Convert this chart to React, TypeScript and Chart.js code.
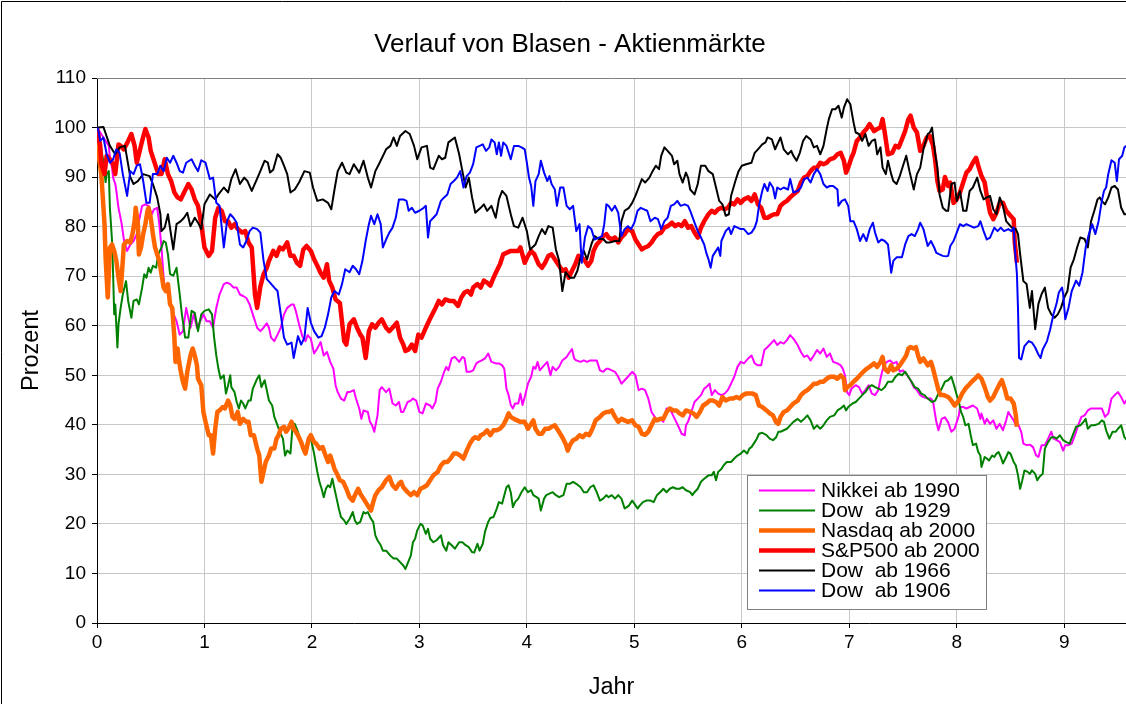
import React, { useEffect, useRef } from 'react';
import { Chart, registerables } from 'chart.js';

Chart.register(...registerables);

type P = [number, number];

const TITLE = 'Verlauf von Blasen - Aktienmärkte';
const X_TITLE = 'Jahr';
const Y_TITLE = 'Prozent';
const X_MAX = 9.575;
const Y_MAX = 110;
const X_STEP = 1;
const Y_STEP = 10;

const nikkei1990: P[] = [[0,100],[0.03,99],[0.06,98],[0.11,96.3],[0.12,93.9],[0.14,91.9],[0.15,89.9],[0.17,88.6],[0.18,87.2],[0.2,83.8],[0.23,80.5],[0.25,77.4],[0.28,75.1],[0.31,76.4],[0.34,77.1],[0.37,78.5],[0.39,81.1],[0.42,84.2],[0.45,84.5],[0.48,84.2],[0.51,82.5],[0.53,83.5],[0.56,83.8],[0.58,80.5],[0.6,75.8],[0.62,69.7],[0.63,67.7],[0.66,67.7],[0.69,63.6],[0.74,60.9],[0.77,58.2],[0.8,58.9],[0.83,63.6],[0.87,59.6],[0.9,62.3],[0.93,59.6],[0.96,60.9],[0.99,62.3],[1.02,60.9],[1.05,60.9],[1.08,59.6],[1.11,63.6],[1.14,66.3],[1.18,68.4],[1.21,68.7],[1.24,68.4],[1.27,67.7],[1.3,67.7],[1.33,66.3],[1.36,66],[1.39,65.6],[1.42,64.3],[1.45,62.3],[1.49,59.6],[1.52,58.9],[1.55,59.6],[1.58,60.5],[1.6,59.6],[1.62,57.6],[1.65,56.9],[1.68,58.2],[1.71,59.6],[1.74,62.3],[1.77,63.6],[1.81,64.3],[1.83,64.3],[1.85,63],[1.88,60.3],[1.91,57.9],[1.94,56.9],[1.96,58.1],[1.99,57.4],[2.02,54.4],[2.05,55.4],[2.08,56.7],[2.11,54],[2.14,54.7],[2.17,52.7],[2.2,51.3],[2.22,48],[2.24,46.6],[2.27,45.3],[2.3,44.9],[2.33,46.6],[2.35,46.6],[2.39,47],[2.41,45.3],[2.44,43.3],[2.46,41.2],[2.48,42.9],[2.52,42.6],[2.54,40.6],[2.56,39.9],[2.58,38.6],[2.61,41.9],[2.63,47],[2.65,47.6],[2.69,46.6],[2.72,47.3],[2.75,44.3],[2.78,43.9],[2.81,44.6],[2.83,42.6],[2.85,42.6],[2.89,44.6],[2.92,44.9],[2.94,45.3],[2.97,44.9],[3,42.6],[3.03,42.3],[3.06,44.3],[3.1,43.9],[3.12,43.3],[3.15,44.6],[3.17,47.3],[3.2,48.7],[3.23,50.7],[3.25,51.7],[3.27,51],[3.3,53.4],[3.33,53.7],[3.37,52.7],[3.4,53.7],[3.42,53.4],[3.44,50.7],[3.47,50.7],[3.5,51],[3.53,52.4],[3.55,52.7],[3.58,53],[3.61,53.4],[3.64,54.4],[3.67,52.7],[3.71,52.4],[3.74,52.4],[3.77,52],[3.79,51.3],[3.81,47.3],[3.83,46],[3.85,44],[3.87,43.3],[3.89,44.3],[3.92,44.3],[3.94,46.3],[3.96,44],[3.98,45.6],[4.01,48.3],[4.04,49.7],[4.06,51.7],[4.08,51.3],[4.1,52.7],[4.12,51],[4.16,52],[4.19,52.7],[4.22,50],[4.24,51.7],[4.27,51],[4.3,51.7],[4.33,53],[4.37,53.7],[4.4,54.7],[4.42,55.3],[4.44,53.4],[4.46,53],[4.5,52.7],[4.53,53],[4.56,52.7],[4.59,53],[4.62,53],[4.65,53],[4.68,51],[4.71,50.7],[4.74,51.3],[4.76,51.3],[4.79,51],[4.82,50.7],[4.85,49.7],[4.88,48.3],[4.91,49],[4.94,49.7],[4.98,50.7],[5.01,50],[5.04,47],[5.07,47.3],[5.1,47],[5.13,45.3],[5.16,42.6],[5.19,41.6],[5.21,40.9],[5.24,41.2],[5.27,40.6],[5.3,43.3],[5.33,43.3],[5.36,41.9],[5.39,40.6],[5.42,39.2],[5.44,38.2],[5.47,37.9],[5.48,39.9],[5.5,40.6],[5.53,42.6],[5.56,44.6],[5.59,45.3],[5.62,46],[5.65,47.3],[5.67,47.6],[5.7,48.3],[5.72,46],[5.75,47],[5.78,46.3],[5.81,46],[5.84,46.3],[5.87,47],[5.9,48.3],[5.93,49.7],[5.96,51.7],[5.99,52.7],[6.02,52.4],[6.06,53.4],[6.09,54],[6.12,52.4],[6.15,52],[6.18,52],[6.21,55.1],[6.24,55.7],[6.27,56.4],[6.3,57.1],[6.33,56.1],[6.36,56.7],[6.39,56.4],[6.42,57.1],[6.45,58.1],[6.48,57.4],[6.52,56.1],[6.55,54.7],[6.58,53.7],[6.61,54],[6.64,53],[6.67,54],[6.7,55.1],[6.73,54.4],[6.76,55.4],[6.79,53.7],[6.82,54.4],[6.85,52.7],[6.89,52.4],[6.92,52],[6.94,51.3],[6.96,50],[6.98,46.6],[7,46],[7.02,47.3],[7.06,48],[7.09,47.6],[7.12,46.3],[7.15,47],[7.18,48],[7.21,46.3],[7.24,46],[7.27,47],[7.29,49.3],[7.32,52],[7.35,52.7],[7.38,53],[7.41,52.4],[7.44,52.7],[7.47,50.7],[7.5,51],[7.53,50.3],[7.57,49],[7.6,47.6],[7.63,47],[7.66,46],[7.69,45.6],[7.73,45.3],[7.76,45.3],[7.78,44.6],[7.81,40.6],[7.83,38.9],[7.86,41.2],[7.89,41.5],[7.92,40.5],[7.95,38.6],[7.98,39.2],[8.02,41.9],[8.03,43.6],[8.06,43.6],[8.09,43.3],[8.12,43.6],[8.15,43.9],[8.19,43.3],[8.22,41.2],[8.23,42.3],[8.26,40.2],[8.28,41.2],[8.31,40.2],[8.34,40.9],[8.37,39.2],[8.4,40.2],[8.43,38.9],[8.46,40.9],[8.48,42.6],[8.5,41.9],[8.53,40.9],[8.55,39.9],[8.57,40.2],[8.6,38.6],[8.62,36.2],[8.65,35.9],[8.68,36],[8.71,35.5],[8.74,33.8],[8.76,33.5],[8.79,35.9],[8.82,35.9],[8.85,37.2],[8.88,38.6],[8.9,37.2],[8.93,36.9],[8.96,36.5],[8.99,34.8],[9.01,35.9],[9.04,35.9],[9.07,36.2],[9.1,37.9],[9.13,39.9],[9.16,41.6],[9.19,41.9],[9.22,42.9],[9.25,43.3],[9.28,43.3],[9.32,43.3],[9.35,43.3],[9.38,41.6],[9.41,42.3],[9.44,45.3],[9.47,46],[9.5,46.6],[9.53,45.6],[9.56,44.3],[9.58,45]];

const dow1929: P[] = [[0,100],[0.03,97],[0.06,93],[0.08,89],[0.09,90.6],[0.11,91.2],[0.12,83.8],[0.14,77.1],[0.15,70.4],[0.16,62.3],[0.17,64.3],[0.19,55.6],[0.2,60.3],[0.22,63.6],[0.24,66.3],[0.27,69],[0.29,65],[0.32,61.6],[0.34,65],[0.37,65.3],[0.39,64.3],[0.42,67.7],[0.44,70.4],[0.46,69.7],[0.48,71.7],[0.5,70.7],[0.52,72.1],[0.55,71.7],[0.57,74.4],[0.6,75.8],[0.62,77.1],[0.64,76.8],[0.66,74.4],[0.68,70.4],[0.71,70.1],[0.74,71.7],[0.77,66.3],[0.79,62.3],[0.82,57.6],[0.85,57.6],[0.88,63],[0.91,62.6],[0.94,58.9],[0.97,62.3],[1,63],[1.04,63.3],[1.07,62.3],[1.09,57.6],[1.11,54],[1.13,51.3],[1.15,49.3],[1.18,50],[1.2,46.3],[1.22,48],[1.24,50],[1.25,47.6],[1.28,46.6],[1.3,44.6],[1.32,43.3],[1.34,44.9],[1.36,44.3],[1.38,43.3],[1.41,44.9],[1.43,44.9],[1.45,47.3],[1.49,49.3],[1.51,50],[1.53,47.6],[1.56,49],[1.58,47],[1.6,44.9],[1.63,43.9],[1.65,41.6],[1.68,39.9],[1.7,38.6],[1.73,37.2],[1.75,33.8],[1.77,34.8],[1.8,34.2],[1.82,39.9],[1.84,40.2],[1.87,38.6],[1.9,35.9],[1.93,35.2],[1.96,36.5],[1.99,37.2],[2.02,34.2],[2.05,30.5],[2.07,28.5],[2.09,27.1],[2.11,25.4],[2.13,27.1],[2.15,27.8],[2.17,27.4],[2.19,29.1],[2.21,27.1],[2.23,25.1],[2.25,23.1],[2.27,21.4],[2.3,20.7],[2.32,20],[2.35,21],[2.38,22.4],[2.4,20.7],[2.42,20],[2.45,20.4],[2.48,22.4],[2.5,22.1],[2.52,22.4],[2.55,21],[2.57,20.4],[2.59,17.7],[2.61,16.7],[2.64,15.7],[2.66,14.6],[2.69,14.6],[2.73,13.6],[2.76,13],[2.79,13],[2.82,12.3],[2.85,11.6],[2.87,10.9],[2.89,12],[2.92,13.6],[2.94,16.3],[2.96,17],[2.98,18.7],[3.01,20],[3.03,19.7],[3.06,18],[3.08,19],[3.1,17],[3.13,16.3],[3.16,16.7],[3.2,17.7],[3.22,15.7],[3.25,14.6],[3.27,16.3],[3.3,15.7],[3.33,15],[3.37,16.3],[3.4,16.3],[3.43,15.7],[3.46,15.3],[3.49,14.3],[3.51,14.2],[3.54,16],[3.56,14.6],[3.59,16],[3.61,18.4],[3.64,20.4],[3.66,21.2],[3.69,21.4],[3.72,23.1],[3.74,24.4],[3.77,24.1],[3.79,25.8],[3.81,27.4],[3.83,27.8],[3.85,26.4],[3.87,23.4],[3.89,24.4],[3.92,25.1],[3.95,26.4],[3.98,27.4],[4.01,26.4],[4.04,26.8],[4.06,25.8],[4.09,25.4],[4.11,25.1],[4.13,22.7],[4.16,25.1],[4.18,25.8],[4.21,26.1],[4.24,26.4],[4.27,25.8],[4.3,25.4],[4.34,25.8],[4.37,28.1],[4.4,28.1],[4.43,28.5],[4.46,28.1],[4.5,27.4],[4.53,26.4],[4.56,26.4],[4.59,27.4],[4.62,27.8],[4.65,26.4],[4.68,24.7],[4.71,25.1],[4.74,25.8],[4.76,25.4],[4.79,25.8],[4.82,25.1],[4.85,25.8],[4.88,25.1],[4.91,23.1],[4.93,23.4],[4.95,23.7],[4.98,24.7],[5,24.1],[5.03,23.1],[5.05,23.7],[5.08,24.4],[5.11,24.7],[5.15,24.7],[5.18,24.4],[5.21,25.8],[5.24,26.4],[5.27,27.1],[5.3,26.4],[5.33,27.1],[5.36,27.4],[5.39,27.1],[5.42,27.1],[5.45,27.4],[5.48,26.8],[5.52,26.4],[5.54,25.8],[5.56,26.4],[5.59,27.1],[5.62,28.5],[5.65,29.1],[5.69,29.8],[5.72,29.8],[5.74,30.5],[5.76,28.8],[5.78,30.5],[5.81,31.1],[5.83,31.8],[5.86,32.5],[5.9,32.5],[5.93,33.2],[5.96,33.8],[5.99,34.2],[6.02,34.8],[6.05,34.2],[6.07,35.2],[6.09,35.5],[6.12,36.5],[6.14,37.2],[6.16,38.2],[6.19,38.4],[6.23,37.9],[6.26,37.2],[6.29,36.9],[6.32,37.5],[6.34,38.6],[6.36,38.6],[6.39,38.9],[6.42,39.2],[6.45,39.9],[6.48,40.6],[6.52,41.2],[6.55,40.6],[6.58,41.2],[6.61,41.9],[6.64,40.9],[6.67,39.2],[6.7,39.9],[6.73,39.2],[6.76,39.9],[6.79,40.9],[6.82,41.6],[6.86,41.9],[6.89,42.9],[6.92,43.3],[6.95,43.9],[6.97,42.9],[6.99,43.6],[7.03,44.3],[7.06,44.6],[7.09,45.3],[7.12,46],[7.15,46.6],[7.18,47.6],[7.21,48],[7.24,47.6],[7.27,47.3],[7.3,47],[7.33,47.6],[7.36,48.7],[7.4,48.7],[7.43,49.7],[7.46,50.3],[7.49,50],[7.52,50.7],[7.55,49.7],[7.58,48.7],[7.61,47.6],[7.64,47.3],[7.67,46.3],[7.7,46],[7.73,45.3],[7.77,44.6],[7.8,44.9],[7.83,46.3],[7.86,47.3],[7.89,48.7],[7.92,49],[7.95,49.7],[7.98,47.6],[8,46],[8.02,44.6],[8.04,42.6],[8.06,41.6],[8.08,39.9],[8.11,40.2],[8.13,37.9],[8.15,35.9],[8.18,36.2],[8.2,34.5],[8.22,33.8],[8.23,31.5],[8.26,33.5],[8.28,33.2],[8.3,32.8],[8.33,33.8],[8.35,33.5],[8.37,34.2],[8.39,34.5],[8.41,33.5],[8.43,32.2],[8.46,33.5],[8.48,34.5],[8.5,34.2],[8.53,32.5],[8.55,31.8],[8.57,29.8],[8.59,27.1],[8.61,28.8],[8.63,30.8],[8.66,30.5],[8.68,30.1],[8.7,30.8],[8.73,30.1],[8.75,28.8],[8.77,29.5],[8.8,30.1],[8.82,35.2],[8.85,36.5],[8.88,37.5],[8.91,37.5],[8.93,37.2],[8.96,37.9],[8.99,36.9],[9.02,36.5],[9.05,36.2],[9.08,37.9],[9.11,39.6],[9.15,39.9],[9.18,40.6],[9.2,41.2],[9.22,39.2],[9.25,39.9],[9.28,39.9],[9.32,40.2],[9.35,40.9],[9.37,40.6],[9.39,38.9],[9.42,37.2],[9.45,38.6],[9.48,38.6],[9.5,39.2],[9.53,39.9],[9.56,37.5],[9.58,37]];

const nasdaq2000: P[] = [[0,97],[0.01,95.3],[0.04,90.6],[0.07,80.5],[0.08,73.7],[0.1,65.7],[0.11,70.4],[0.12,75.8],[0.14,76.4],[0.16,75.1],[0.18,73.1],[0.2,69.7],[0.22,67],[0.24,73.1],[0.25,76.4],[0.28,77.1],[0.31,76.8],[0.33,78.5],[0.35,81.1],[0.36,83.8],[0.38,80.5],[0.39,74.4],[0.41,75.8],[0.43,78.5],[0.45,80.5],[0.47,83.2],[0.48,83.8],[0.5,81.8],[0.52,78.5],[0.54,75.8],[0.56,74.4],[0.58,73.1],[0.6,70.4],[0.62,67.7],[0.64,67],[0.66,68.4],[0.68,64.3],[0.7,63.6],[0.72,57.6],[0.73,52.7],[0.75,55.4],[0.76,53.4],[0.78,50.7],[0.8,48.7],[0.82,47.3],[0.84,50.7],[0.87,54],[0.89,55.4],[0.91,54],[0.93,52],[0.94,49.3],[0.97,48],[0.99,42.6],[1.01,40.6],[1.04,37.9],[1.06,37.9],[1.08,34.2],[1.1,39.2],[1.12,42.6],[1.14,42.9],[1.17,43.6],[1.19,43.3],[1.22,44.9],[1.24,43.9],[1.26,41.6],[1.28,41.2],[1.31,42.6],[1.33,40.2],[1.36,41.2],[1.39,40.6],[1.41,40.6],[1.43,37.9],[1.46,37.9],[1.49,35.2],[1.51,33.8],[1.53,28.5],[1.55,30.5],[1.57,32.5],[1.6,33.8],[1.62,35.2],[1.65,35.2],[1.67,37.2],[1.69,37.9],[1.71,39.2],[1.74,39.6],[1.76,38.6],[1.78,39.2],[1.81,40.6],[1.83,39.2],[1.85,38.6],[1.87,37.9],[1.9,36.5],[1.92,35.2],[1.94,34.2],[1.97,37.2],[1.99,37.9],[2.02,36.5],[2.04,36.2],[2.07,35.2],[2.1,35.5],[2.12,34.2],[2.15,32.5],[2.17,33.8],[2.19,32.5],[2.21,31.1],[2.24,29.8],[2.26,28.8],[2.29,28.5],[2.32,27.1],[2.35,25.4],[2.38,24.7],[2.4,25.8],[2.43,27.1],[2.45,26.1],[2.48,25.1],[2.5,24.4],[2.52,23.7],[2.55,22.7],[2.57,24.4],[2.59,25.8],[2.62,26.8],[2.65,27.4],[2.69,28.8],[2.72,29.5],[2.75,27.8],[2.78,27.1],[2.81,28.1],[2.83,28.5],[2.85,27.4],[2.89,26.4],[2.92,25.8],[2.95,26.4],[2.98,25.8],[3.01,27.1],[3.04,27.4],[3.07,27.8],[3.1,28.8],[3.13,29.8],[3.17,30.5],[3.2,31.8],[3.23,32.5],[3.26,32.5],[3.29,33.2],[3.32,34.2],[3.35,34.2],[3.38,33.8],[3.41,33.2],[3.44,34.8],[3.47,36.2],[3.5,37.2],[3.52,37.5],[3.55,37.2],[3.57,37.9],[3.6,38.2],[3.63,38.9],[3.66,37.9],[3.69,38.9],[3.72,38.9],[3.75,39.2],[3.78,39.9],[3.81,41.2],[3.83,42.3],[3.85,41.6],[3.88,41.2],[3.91,40.9],[3.94,40.6],[3.98,40.6],[4.01,39.2],[4.03,39.9],[4.06,40.9],[4.08,39.2],[4.11,38.2],[4.14,38.2],[4.17,39.2],[4.2,39.2],[4.23,39.6],[4.26,39.9],[4.29,38.9],[4.33,37.5],[4.36,36.2],[4.38,34.8],[4.4,35.9],[4.43,36.9],[4.46,37.2],[4.49,37.9],[4.52,37.5],[4.55,38.2],[4.58,37.9],[4.61,39.2],[4.64,40.9],[4.68,41.6],[4.71,42.3],[4.74,42.6],[4.76,42.6],[4.79,42.9],[4.82,41.6],[4.85,40.6],[4.88,41.2],[4.91,40.9],[4.94,40.6],[4.98,40.9],[5.01,39.9],[5.04,39.6],[5.07,38.2],[5.1,38],[5.13,38.6],[5.16,39.9],[5.19,41.2],[5.21,40.9],[5.24,41.2],[5.27,41.2],[5.3,42.6],[5.33,43.3],[5.36,42.9],[5.39,42.9],[5.42,42.3],[5.45,41.9],[5.48,42.9],[5.52,42.6],[5.55,42.3],[5.58,41.6],[5.61,42.6],[5.64,43.9],[5.67,44.3],[5.7,44.9],[5.73,44.9],[5.76,44.6],[5.79,43.9],[5.82,45.6],[5.85,44.9],[5.89,45.3],[5.92,45.3],[5.95,45.6],[5.98,45.3],[6.01,46],[6.04,46.3],[6.07,46.3],[6.1,46.3],[6.13,46],[6.16,43.9],[6.19,43.6],[6.23,42.9],[6.26,42.3],[6.29,41.9],[6.32,40.5],[6.34,40.2],[6.36,41.6],[6.39,42.6],[6.42,42.9],[6.45,43.6],[6.48,44.3],[6.52,44.9],[6.55,46],[6.58,46.6],[6.61,47],[6.64,47.6],[6.67,48.3],[6.7,48.3],[6.73,48.7],[6.76,48.7],[6.79,49.3],[6.82,49.7],[6.86,49.7],[6.89,49.3],[6.92,50],[6.95,49.3],[6.96,47],[6.98,47.6],[7.01,48],[7.04,48.7],[7.07,49.3],[7.1,50],[7.13,50.7],[7.16,51.3],[7.19,51.7],[7.23,52.4],[7.26,51.7],[7.29,52.7],[7.31,53.7],[7.33,51.3],[7.36,50.7],[7.39,52],[7.41,51],[7.44,51.3],[7.47,52],[7.5,53],[7.53,54],[7.55,55.4],[7.57,55.7],[7.6,55.4],[7.62,55.7],[7.64,54],[7.66,52.7],[7.69,53.4],[7.73,52],[7.76,52.7],[7.78,51.3],[7.81,48.7],[7.83,47],[7.85,46],[7.88,46],[7.92,45.6],[7.95,44.9],[7.98,43.9],[8.02,44.9],[8.05,46.3],[8.08,47.3],[8.11,48],[8.14,48.7],[8.17,49.3],[8.2,50],[8.23,49.3],[8.26,47.6],[8.29,45.6],[8.31,44.9],[8.34,45.6],[8.37,47],[8.4,48.3],[8.42,49],[8.45,47],[8.47,45.3],[8.5,45.3],[8.53,44.3],[8.55,41.9],[8.56,39.6]];

const sp500_2000: P[] = [[0,100],[0.03,96.3],[0.04,92.6],[0.07,90.6],[0.09,94.3],[0.12,93.6],[0.15,92.6],[0.17,90.6],[0.2,96.6],[0.22,96.3],[0.25,95.6],[0.29,97.3],[0.32,98.7],[0.35,96.3],[0.37,92.9],[0.39,94.6],[0.42,97.3],[0.45,99.7],[0.48,98],[0.5,95.3],[0.53,93.3],[0.57,90.6],[0.6,90.6],[0.63,93.6],[0.66,90.6],[0.69,89.2],[0.72,86.9],[0.75,85.9],[0.78,85.5],[0.81,86.9],[0.85,88.6],[0.88,87.5],[0.91,85.5],[0.94,84.2],[0.97,80.5],[1,75.8],[1.04,74.1],[1.07,75.1],[1.1,81.8],[1.13,83.8],[1.16,83.2],[1.19,81.1],[1.22,81.1],[1.25,79.8],[1.28,80.5],[1.31,79.5],[1.35,78.8],[1.38,79.1],[1.41,76.8],[1.44,75.8],[1.47,66.3],[1.49,63.6],[1.52,67.9],[1.55,70.4],[1.58,71.7],[1.6,73.1],[1.64,75.1],[1.67,74.1],[1.7,75.8],[1.73,75.4],[1.77,76.8],[1.8,74.1],[1.83,74.1],[1.86,72.7],[1.89,72.1],[1.92,75.4],[1.95,76.1],[1.99,75.1],[2.02,73.4],[2.05,72.1],[2.08,70.7],[2.11,69.7],[2.14,72.4],[2.16,69.1],[2.19,67.7],[2.22,65.3],[2.26,64.6],[2.3,56.9],[2.32,56.2],[2.35,60.3],[2.39,61.3],[2.42,59.6],[2.45,58.2],[2.47,57.6],[2.5,53.5],[2.53,58.9],[2.56,60.3],[2.59,59.6],[2.62,60.6],[2.65,61.3],[2.69,59.6],[2.72,58.9],[2.75,59.6],[2.79,60.6],[2.82,57.6],[2.85,56.2],[2.87,54.9],[2.9,55.2],[2.93,56.2],[2.96,54.9],[2.99,58.2],[3.02,57.6],[3.06,59.6],[3.09,61],[3.12,62.3],[3.15,63.6],[3.18,65],[3.21,64.3],[3.24,65.3],[3.28,65],[3.32,65],[3.36,64],[3.39,65.7],[3.42,66.7],[3.45,67],[3.48,66.3],[3.5,67.7],[3.54,68.4],[3.57,67.7],[3.6,69.1],[3.63,68.7],[3.66,68.1],[3.69,69.7],[3.72,71.1],[3.75,72.4],[3.78,74.4],[3.81,74.7],[3.85,75.1],[3.89,75.1],[3.92,75.1],[3.94,75.8],[3.98,72.7],[4.01,74.1],[4.04,75.1],[4.07,74.4],[4.11,72.4],[4.14,71.7],[4.17,72.7],[4.2,74.1],[4.23,74.4],[4.26,73.4],[4.3,72.1],[4.33,71.1],[4.36,71.4],[4.39,69.7],[4.42,71.1],[4.45,72.4],[4.48,74.1],[4.51,73.8],[4.54,73.1],[4.57,72.1],[4.6,73.1],[4.62,75.1],[4.65,76.4],[4.68,77.1],[4.71,78.1],[4.74,78.5],[4.76,77.8],[4.79,77.4],[4.82,77.8],[4.85,76.8],[4.88,77.8],[4.91,78.5],[4.94,79.5],[4.98,79.1],[5.01,77.4],[5.04,76.4],[5.07,75.4],[5.1,75.8],[5.13,76.1],[5.16,76.8],[5.19,77.8],[5.22,78.5],[5.25,78.8],[5.28,79.8],[5.31,80.1],[5.35,80.8],[5.38,80.1],[5.41,80.5],[5.44,80.1],[5.47,81.1],[5.5,79.8],[5.53,80.1],[5.56,78.8],[5.59,77.8],[5.62,79.8],[5.65,81.1],[5.69,82.5],[5.72,83.2],[5.75,82.8],[5.78,83.5],[5.81,83.8],[5.84,83.5],[5.87,83.8],[5.9,84.8],[5.93,84.5],[5.96,85.5],[5.99,84.8],[6.02,85.5],[6.06,85.9],[6.09,85.2],[6.12,86.5],[6.15,84.5],[6.18,83.8],[6.21,81.8],[6.24,81.8],[6.27,82.2],[6.3,82.5],[6.33,82.5],[6.36,84.2],[6.39,84.8],[6.42,85.2],[6.45,85.9],[6.48,86.5],[6.52,87.2],[6.55,88.9],[6.58,89.9],[6.61,90.2],[6.64,91.2],[6.67,91.9],[6.7,91.9],[6.73,92.9],[6.76,92.6],[6.79,92.9],[6.82,93.6],[6.86,93.9],[6.89,94.6],[6.92,94.9],[6.95,93.3],[6.97,90.9],[6.99,91.9],[7.02,93.9],[7.04,94.9],[7.07,97.3],[7.1,98],[7.13,99],[7.16,99.7],[7.19,100.7],[7.23,99.3],[7.26,99.7],[7.29,100],[7.31,101.7],[7.33,99],[7.36,94.6],[7.4,94.9],[7.43,96.3],[7.46,96],[7.49,97.6],[7.52,99.3],[7.55,101.7],[7.57,102.4],[7.6,100],[7.63,99],[7.66,95.3],[7.69,96.3],[7.72,98],[7.75,98.3],[7.78,96.3],[7.8,93.3],[7.82,89.2],[7.84,87.2],[7.87,87.5],[7.89,90],[7.92,88.2],[7.94,88.9],[7.97,84.8],[8,85.5],[8.03,86.9],[8.06,88.9],[8.09,90.9],[8.12,91.6],[8.15,92.9],[8.18,93.9],[8.2,92.3],[8.23,90.2],[8.26,88.9],[8.28,86.2],[8.31,82.8],[8.34,81.5],[8.37,82.8],[8.4,84.8],[8.43,84.8],[8.46,83.2],[8.5,82.2],[8.53,81.5],[8.54,76.8],[8.56,72.7]];

const dow1966: P[] = [[0,100],[0.01,100],[0.06,100.1],[0.12,96.3],[0.17,94.6],[0.21,96],[0.26,96.3],[0.31,90],[0.34,88.6],[0.38,89.2],[0.43,90.6],[0.49,90.2],[0.52,88.6],[0.56,85.9],[0.59,82.5],[0.6,79.1],[0.63,79.8],[0.66,82.5],[0.71,75.4],[0.74,80.5],[0.78,81.1],[0.81,81.8],[0.84,82.8],[0.87,80.1],[0.91,81.8],[0.94,80.8],[0.97,79.5],[1,84.5],[1.05,86.5],[1.1,85.5],[1.13,86.5],[1.18,87.9],[1.22,86.9],[1.25,89.6],[1.29,91.6],[1.33,88.6],[1.37,89.9],[1.4,89.2],[1.44,87.2],[1.48,89.2],[1.52,91.2],[1.56,93.3],[1.59,92.9],[1.61,90.9],[1.64,91.5],[1.68,94.6],[1.71,93.9],[1.74,92.3],[1.77,90.6],[1.8,86.9],[1.84,87.5],[1.88,88.9],[1.93,91.2],[1.98,90.9],[2.01,87.9],[2.05,85.2],[2.1,85.5],[2.15,84.8],[2.18,83.5],[2.21,87.5],[2.24,91.2],[2.28,92.9],[2.32,90.9],[2.35,90.6],[2.39,92.6],[2.44,90.9],[2.48,93.3],[2.52,89.9],[2.55,87.9],[2.59,91.2],[2.63,92.9],[2.69,95.6],[2.73,96.3],[2.76,98],[2.79,96.3],[2.82,98.3],[2.87,99.3],[2.91,98.7],[2.95,96.3],[2.98,93.6],[3.02,96],[3.07,96.3],[3.1,91.9],[3.13,91.6],[3.18,94.3],[3.21,93.6],[3.24,93.9],[3.27,97],[3.33,98],[3.37,94.6],[3.4,91.2],[3.43,87.9],[3.46,89.9],[3.49,85.9],[3.52,82.8],[3.57,83.8],[3.6,84.5],[3.63,83.2],[3.67,84.2],[3.71,81.8],[3.74,85.5],[3.77,87.2],[3.81,86.2],[3.85,82.5],[3.88,80.1],[3.92,79.8],[3.96,81.8],[4,79.1],[4.03,75.4],[4.08,76.4],[4.11,78.1],[4.14,79.5],[4.17,78.5],[4.2,80.1],[4.24,79.8],[4.27,75.4],[4.3,73.1],[4.33,67],[4.36,70.8],[4.4,69.7],[4.44,69.7],[4.47,71.1],[4.5,73.8],[4.53,75.1],[4.56,73.4],[4.6,76.4],[4.63,78.1],[4.67,77.5],[4.71,77.5],[4.74,76.8],[4.77,76.8],[4.82,77.1],[4.86,77.1],[4.88,81.1],[4.91,83.2],[4.95,83.8],[4.98,84.8],[5.01,86.2],[5.04,87.9],[5.07,89.6],[5.1,88.9],[5.14,89.9],[5.17,91.2],[5.2,92.3],[5.23,91.6],[5.25,94.3],[5.28,96],[5.31,95.3],[5.35,94.3],[5.37,92.6],[5.4,93.3],[5.42,90.6],[5.45,88.9],[5.48,90.9],[5.5,89.9],[5.52,87.5],[5.56,86.5],[5.59,88.6],[5.62,92.3],[5.66,92.3],[5.69,91.2],[5.73,90.6],[5.76,87.9],[5.79,85.2],[5.82,84.5],[5.85,82.2],[5.88,82.5],[5.9,86.2],[5.94,89.2],[5.97,91.2],[6,92.3],[6.04,92.6],[6.09,92.9],[6.12,94.9],[6.15,95.6],[6.19,96.6],[6.22,97],[6.24,98],[6.28,97.6],[6.31,95.6],[6.33,96.6],[6.36,98],[6.39,95.6],[6.43,94.6],[6.46,95.3],[6.48,94.3],[6.51,93.3],[6.54,94.9],[6.57,97.3],[6.6,98.3],[6.64,97.6],[6.67,96],[6.7,96.3],[6.73,94.6],[6.76,96.3],[6.79,99.7],[6.81,101.7],[6.84,103.7],[6.87,103.7],[6.9,104.4],[6.93,102],[6.95,104],[6.98,105.7],[7.01,104.7],[7.04,101],[7.06,99],[7.09,98.7],[7.12,97.3],[7.15,98.7],[7.18,96.3],[7.21,97.3],[7.24,97.6],[7.26,94.6],[7.29,96],[7.31,91.9],[7.34,90.6],[7.36,93.3],[7.39,90.6],[7.41,89.2],[7.44,88.6],[7.47,90.2],[7.5,92.3],[7.53,94.3],[7.56,91.2],[7.6,87.5],[7.63,90.6],[7.66,91.9],[7.69,95.6],[7.73,98.7],[7.75,99],[7.77,100],[7.8,94.6],[7.82,91.9],[7.84,86.5],[7.87,83.8],[7.9,83.2],[7.92,83.2],[7.95,88.6],[7.98,88.9],[8,85.2],[8.03,87.2],[8.06,83.2],[8.09,83.2],[8.12,87.2],[8.15,87.9],[8.19,89.9],[8.22,87.2],[8.25,85.5],[8.28,85.9],[8.31,86.2],[8.34,83.5],[8.37,82.5],[8.4,85.9],[8.43,84.2],[8.46,81.1],[8.5,80.1],[8.53,79.5],[8.55,79.5],[8.57,78.5],[8.59,74.4],[8.62,69],[8.65,68.4],[8.68,63.6],[8.7,67],[8.73,59.3],[8.76,64.4],[8.79,66.4],[8.82,67.7],[8.85,63.6],[8.88,62.3],[8.91,61.6],[8.94,62.3],[8.97,63.6],[9,65.7],[9.03,67],[9.06,71.8],[9.09,73.4],[9.12,75.8],[9.15,77.8],[9.19,77.5],[9.22,75.8],[9.25,81.1],[9.28,83.2],[9.31,85.5],[9.33,85.9],[9.35,85.2],[9.38,84.5],[9.41,85.9],[9.44,87.9],[9.47,88.2],[9.5,87.5],[9.53,83.8],[9.56,82.5],[9.58,82.5]];

const dow1906: P[] = [[0,100],[0.01,99.7],[0.03,97.3],[0.06,98],[0.09,94.6],[0.12,92.9],[0.15,93.6],[0.18,95.6],[0.21,94.9],[0.24,90.6],[0.28,86.2],[0.31,91.2],[0.34,90.6],[0.37,92.3],[0.4,92.6],[0.43,89.2],[0.46,84.8],[0.49,84.8],[0.52,90.6],[0.56,90.6],[0.59,92.3],[0.62,91.2],[0.65,93.9],[0.68,92.9],[0.71,94.3],[0.74,92.9],[0.77,91.2],[0.8,90.9],[0.83,92.9],[0.88,93.6],[0.91,92.3],[0.94,91.2],[0.97,93.4],[1.01,92.9],[1.05,89.6],[1.08,89.9],[1.11,84.8],[1.14,84.2],[1.18,75.8],[1.21,81.1],[1.24,82.5],[1.27,81.8],[1.3,80.8],[1.33,76.4],[1.36,75.8],[1.39,77.1],[1.42,79.1],[1.45,79.8],[1.49,79.5],[1.52,78.8],[1.55,73.1],[1.58,69.4],[1.61,68.7],[1.65,67.7],[1.68,67],[1.71,62.3],[1.74,57.6],[1.77,56.2],[1.81,56.6],[1.83,53.5],[1.87,57.9],[1.9,56.2],[1.93,57.6],[1.96,63.6],[1.99,60.6],[2.02,58.9],[2.06,57.6],[2.09,57.9],[2.12,59.6],[2.15,62.3],[2.18,65.7],[2.21,67],[2.25,66.3],[2.28,68.4],[2.31,71.4],[2.35,70.8],[2.38,72.1],[2.41,71.4],[2.44,70.4],[2.47,73.1],[2.5,77.1],[2.53,80.5],[2.55,82.2],[2.58,80.5],[2.61,82.5],[2.64,80.5],[2.66,75.8],[2.69,77.4],[2.72,78.8],[2.75,79.8],[2.78,81.8],[2.81,85.5],[2.85,85.5],[2.88,85.2],[2.9,83.2],[2.93,83.8],[2.96,82.8],[3,83.2],[3.04,83.8],[3.06,84.2],[3.08,77.8],[3.1,81.1],[3.13,81.8],[3.16,82.5],[3.2,85.2],[3.23,85.9],[3.26,86.5],[3.29,88.6],[3.32,89.2],[3.35,89.9],[3.38,91.2],[3.41,87.9],[3.44,90.2],[3.47,90.9],[3.5,92.6],[3.53,96],[3.56,96.3],[3.59,96.6],[3.62,95.3],[3.65,96],[3.67,97.6],[3.7,97],[3.72,94.6],[3.74,97],[3.76,94.3],[3.78,97],[3.81,96.3],[3.85,93.6],[3.88,96.3],[3.92,96.3],[3.95,96],[3.98,95.6],[4,92.9],[4.02,89.9],[4.04,88.2],[4.06,84.2],[4.08,89.2],[4.11,90.6],[4.13,93.3],[4.16,90.9],[4.19,89.2],[4.21,90.2],[4.23,88.6],[4.26,87.5],[4.28,84.2],[4.31,87.9],[4.34,87.9],[4.37,84.2],[4.4,83.5],[4.43,84.2],[4.46,79.1],[4.49,80.5],[4.51,72.7],[4.54,77.8],[4.57,80.1],[4.6,79.5],[4.63,77.4],[4.67,77.8],[4.7,78.1],[4.72,80.5],[4.74,84.5],[4.76,84.2],[4.79,83.2],[4.82,84.2],[4.85,82.8],[4.88,78.1],[4.91,79.5],[4.94,80.1],[4.97,79.5],[5,80.8],[5.03,83.2],[5.06,83.8],[5.09,83.5],[5.12,83.2],[5.15,81.1],[5.19,81.8],[5.22,81.5],[5.25,79.5],[5.28,81.1],[5.31,81.8],[5.34,84.2],[5.37,84.5],[5.4,85.2],[5.43,84.2],[5.47,84.5],[5.5,84.2],[5.52,83.2],[5.56,80.8],[5.59,79.1],[5.62,77.8],[5.65,76.4],[5.67,74.7],[5.69,73.4],[5.71,71.7],[5.73,74.1],[5.76,75.1],[5.78,75.8],[5.8,74.1],[5.81,77.1],[5.85,79.1],[5.88,79.8],[5.9,78.5],[5.93,80.1],[5.96,79.8],[5.99,79.5],[6.02,79.5],[6.06,78.5],[6.09,78.8],[6.12,79.8],[6.14,81.1],[6.16,84.2],[6.19,87.2],[6.21,88.6],[6.24,87.2],[6.26,88.9],[6.29,87.9],[6.31,85.7],[6.33,87.9],[6.36,87.5],[6.39,87.9],[6.43,87.5],[6.45,89.6],[6.48,86.9],[6.52,87.2],[6.55,87.9],[6.58,89.6],[6.61,89.9],[6.64,88.9],[6.67,90.6],[6.7,91.6],[6.73,90.6],[6.76,88.6],[6.79,87.9],[6.82,88.2],[6.85,88.2],[6.89,87.5],[6.9,84.2],[6.93,85.2],[6.96,85.5],[6.99,84.2],[7.01,81.1],[7.04,81.1],[7.07,79.5],[7.1,77.1],[7.13,78.5],[7.16,77.1],[7.19,79.5],[7.22,80.8],[7.24,78.8],[7.27,76.8],[7.3,77.4],[7.33,77.1],[7.36,76.4],[7.39,70.7],[7.41,73.1],[7.44,73.8],[7.49,73.8],[7.52,76.4],[7.55,78.1],[7.58,78.5],[7.61,78.1],[7.64,79.5],[7.66,80.8],[7.69,79.5],[7.71,77.8],[7.73,76.1],[7.76,77.1],[7.79,75.8],[7.81,74.7],[7.84,74.4],[7.87,74.1],[7.9,74],[7.92,74.1],[7.94,76.1],[7.97,77.1],[8,78.8],[8.03,80.5],[8.06,80.1],[8.09,80.5],[8.13,80.1],[8.16,79.8],[8.2,80.1],[8.22,81.1],[8.25,79.1],[8.28,77.4],[8.31,77.8],[8.35,79.8],[8.38,79.1],[8.41,79.8],[8.44,79.1],[8.48,79.5],[8.51,79.1],[8.53,79.8],[8.54,75.8],[8.56,70.4],[8.57,63.6],[8.58,53.5],[8.6,53.2],[8.63,55.9],[8.67,56.9],[8.7,56.6],[8.73,55.6],[8.76,54.2],[8.78,53.5],[8.8,55.2],[8.84,56.9],[8.87,59.3],[8.9,62.3],[8.93,64.6],[8.95,66.7],[8.98,67.7],[8.99,66.4],[9.01,61.3],[9.04,63.6],[9.07,67],[9.11,69.1],[9.14,68.1],[9.17,70.7],[9.2,75.8],[9.23,78.5],[9.26,80.5],[9.29,78.5],[9.32,81.1],[9.35,85.2],[9.37,87.2],[9.39,87.9],[9.41,90.6],[9.44,93.4],[9.47,92.9],[9.49,89.2],[9.51,93.6],[9.54,94.3],[9.56,96],[9.58,96.3]];

const seriesLabels = ['Nikkei ab 1990', 'Dow  ab 1929', 'Nasdaq ab 2000', 'S&P500 ab 2000', 'Dow  ab 1966', 'Dow  ab 1906'];
const seriesData = [nikkei1990, dow1929, nasdaq2000, sp500_2000, dow1966, dow1906];
const seriesColors = ['#FF00FF', '#008000', '#FF6600', '#FF0000', '#000000', '#0000FF'];
const seriesWidths = [2, 2, 4.5, 4.5, 2, 2];

const FONT = '"Liberation Sans", Arial, sans-serif';

const overlayPlugin = {
  id: 'overlay',
  afterDraw(chart: any) {
    const { ctx, chartArea, width, height } = chart;
    ctx.save();
    // outer chart frame (left and top edges visible)
    ctx.strokeStyle = '#000';
    ctx.lineWidth = 1;
    ctx.beginPath();
    ctx.moveTo(1.5, height);
    ctx.lineTo(1.5, 1.5);
    ctx.lineTo(width, 1.5);
    ctx.stroke();
    // plot-area top border
    ctx.strokeStyle = '#808080';
    ctx.lineWidth = 1;
    ctx.beginPath();
    ctx.moveTo(chartArea.left, chartArea.top + 0.5);
    ctx.lineTo(chartArea.right, chartArea.top + 0.5);
    ctx.stroke();
    // title
    ctx.fillStyle = '#000';
    ctx.font = `26px ${FONT}`;
    ctx.textAlign = 'center';
    ctx.textBaseline = 'middle';
    ctx.fillText(TITLE, 570, 45);
    // legend
    const bx = 747.5, by = 475.5, bw = 239, bh = 134;
    ctx.fillStyle = '#fff';
    ctx.fillRect(bx, by, bw, bh);
    ctx.strokeStyle = '#808080';
    ctx.lineWidth = 1;
    ctx.strokeRect(bx, by, bw, bh);
    ctx.font = `21px ${FONT}`;
    ctx.textAlign = 'left';
    for (let i = 0; i < seriesLabels.length; i++) {
      const y = 490.5 + i * 20;
      ctx.strokeStyle = seriesColors[i];
      ctx.lineWidth = seriesWidths[i];
      ctx.beginPath();
      ctx.moveTo(759, y);
      ctx.lineTo(815, y);
      ctx.stroke();
      ctx.fillStyle = '#000';
      ctx.fillText(seriesLabels[i], 821, y + 1);
    }
    ctx.restore();
  },
};

export default function App() {
  const ref = useRef<HTMLCanvasElement | null>(null);
  useEffect(() => {
    if (!ref.current) return;
    const chart = new Chart(ref.current, {
      type: 'line',
      data: {
        datasets: seriesData.map((d, i) => ({
          label: seriesLabels[i],
          data: d.map(([x, y]) => ({ x, y })),
          borderColor: seriesColors[i],
          backgroundColor: seriesColors[i],
          borderWidth: seriesWidths[i],
          pointRadius: 0,
          tension: 0,
          fill: false,
          order: seriesData.length - i,
          borderJoinStyle: 'round' as const,
        })),
      },
      options: {
        animation: false,
        responsive: false,
        devicePixelRatio: 1,
        layout: { padding: { top: 78, left: 0, right: 0, bottom: 0 } },
        plugins: { legend: { display: false }, title: { display: false }, tooltip: { enabled: false } },
        scales: {
          x: {
            type: 'linear',
            min: 0,
            max: X_MAX,
            ticks: {
              stepSize: X_STEP,
              includeBounds: false,
              color: '#000',
              font: { family: FONT, size: 19 },
              padding: 3,
              maxRotation: 0,
              callback: (v: any) => (Number.isInteger(v) ? String(v) : ''),
            },
            grid: { color: '#c8c8c8', lineWidth: 1, drawTicks: true, tickLength: 5, tickColor: '#000' },
            border: { display: true, color: '#000', width: 1 },
            title: { display: true, text: X_TITLE, color: '#000', font: { family: FONT, size: 23.5 }, padding: { top: 0, bottom: 2 } },
            afterFit: (s: any) => { s.height = 81; },
          },
          y: {
            type: 'linear',
            min: 0,
            max: Y_MAX,
            ticks: { stepSize: Y_STEP, color: '#000', font: { family: FONT, size: 19 }, padding: 6 },
            grid: { color: '#c8c8c8', lineWidth: 1, drawTicks: true, tickLength: 5, tickColor: '#000' },
            border: { display: true, color: '#000', width: 1 },
            title: { display: true, text: Y_TITLE, color: '#000', font: { family: FONT, size: 23.5 }, padding: { top: 17, bottom: 0 } },
            afterFit: (s: any) => { s.width = 97; },
          },
        },
      },
      plugins: [overlayPlugin],
    });
    return () => chart.destroy();
  }, []);
  return (
    <div style={{ position: 'absolute', left: 0, top: 0, width: 1126, height: 704, background: '#fff' }}>
      <canvas ref={ref} width={1126} height={704} style={{ display: 'block', width: 1126, height: 704 }} />
    </div>
  );
}
